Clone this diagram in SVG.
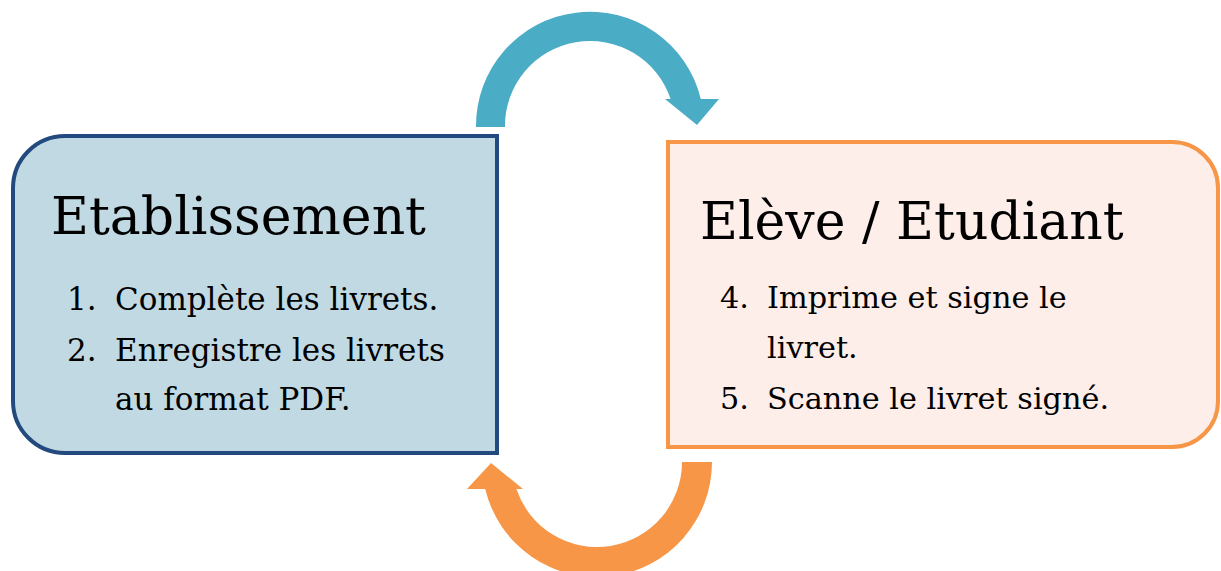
<svg xmlns="http://www.w3.org/2000/svg" width="1221" height="571" viewBox="0 0 1221 571">
<style>
text{font-family:"DejaVu Serif","Liberation Serif",serif;fill:#000}
.title{font-size:52px}
.item{font-size:31px}
.item2{font-size:30.3px}
</style>
<rect width="1221" height="571" fill="#fff"/>
<g id="connectors">
<path id="arrow-top" fill="#4BACC6" d="M476 127 A114 114 0 0 1 700.8 99 L719 99 L697 125 L665 99 L670.6 99 A85 85 0 0 0 505 127 Z"/>
<path id="arrow-bottom" fill="#F79646" d="M712 462 A115 115 0 0 1 485.2 489 L467 489 L491 463 L523 489 L516.4 489 A85 85 0 0 0 682 462 Z"/>
</g>
<g id="node-etablissement">
<path d="M65 136 L497 136 L497 453 L65 453 A52 52 0 0 1 13 401 L13 188 A52 52 0 0 1 65 136 Z" fill="#C1D9E3" stroke="#234A7E" stroke-width="4"/>
<text class="title" x="51" y="234">Etablissement</text>
<text class="item" x="67" y="310">1.</text>
<text class="item" x="115" y="310">Complète les livrets.</text>
<text class="item" x="67" y="361">2.</text>
<text class="item" x="115" y="361">Enregistre les livrets</text>
<text class="item" x="115" y="410">au format PDF.</text>
</g>
<g id="node-eleve">
<path d="M668 142 L1172 142 A46 46 0 0 1 1218 188 L1218 401 A46 46 0 0 1 1172 447 L668 447 Z" fill="#FDEEEA" stroke="#F79646" stroke-width="4"/>
<text class="title" x="700" y="239">Elève / Etudiant</text>
<text class="item2" x="720" y="308">4.</text>
<text class="item2" x="767" y="308">Imprime et signe le</text>
<text class="item2" x="767" y="358">livret.</text>
<text class="item2" x="720" y="409">5.</text>
<text class="item2" x="767" y="409">Scanne le livret signé.</text>
</g>
</svg>
